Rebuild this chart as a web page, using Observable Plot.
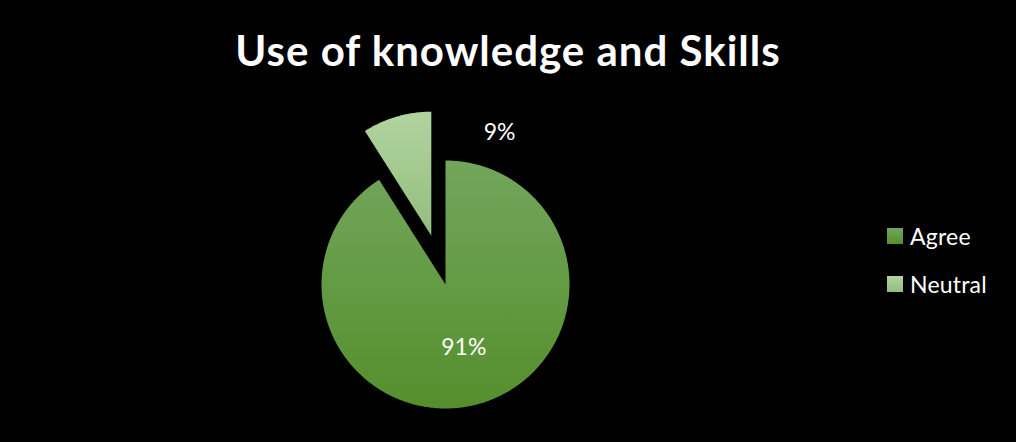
<!DOCTYPE html>
<html>
<head>
<meta charset="utf-8">
<script src="https://cdn.jsdelivr.net/npm/d3@7"></script>
<script src="https://cdn.jsdelivr.net/npm/@observablehq/plot@0.6"></script>
<style>
  html, body { margin: 0; padding: 0; background: #000; }
  #wrap { position: relative; width: 1016px; height: 442px; background: #000; overflow: hidden; font-family: Lato, "Open Sans", sans-serif; }
  #title { position: absolute; left: 0; top: 29px; width: 1016px; text-align: center; color: #fff; font-weight: 700; font-size: 42px; line-height: 42px; letter-spacing: 1px; white-space: nowrap; }
  #chart { position: absolute; left: 0; top: 0; }
  .lg { position: absolute; left: 887px; height: 20px; display: flex; align-items: center; color: #fff; font-size: 23px; line-height: 20px; letter-spacing: 0.2px; white-space: nowrap; }
  .sw { width: 16px; height: 16px; margin-right: 7px; flex: none; }
</style>
</head>
<body>
<div id="wrap">
  <div id="title"></div>
  <div id="chart"></div>
  <div id="legend"></div>
</div>
<script>
// ---- data ----
const title = "Use of knowledge and Skills";
const categories = ["Agree", "Neutral"];
const values = [91, 9];
const valueLabels = ["91%", "9%"];

// ---- styles ----
const gradTop = ["#72a65c", "#b2d4a0"];
const gradBottom = ["#558f2c", "#93bd7d"];

// ---- layout ----
const W = 1016, H = 442;
const cx = 445, cy = 284, R = 124;      // pie centre / radius in pixels
const explode = [0, 0.41];               // offset of each slice, in radii
const labelPos = [                        // label placement (angle deg clockwise from top, radius in radii)
  null,                                   // null -> mid-angle inside slice
  {angle: 19.6, r: 1.30}
];

document.getElementById("title").textContent = title;

const pie = d3.pie().sort(null).value(d => d)(values);

const slices = pie.map((p, i) => {
  const mid = (p.startAngle + p.endAngle) / 2;
  const ox = explode[i] * Math.sin(mid), oy = explode[i] * Math.cos(mid);
  const pts = [{x: ox, y: oy}];
  const n = Math.max(2, Math.ceil((p.endAngle - p.startAngle) / (Math.PI / 360)));
  for (let k = 0; k <= n; k++) {
    const a = p.startAngle + (p.endAngle - p.startAngle) * k / n;
    pts.push({x: ox + Math.sin(a), y: oy + Math.cos(a)});
  }
  pts.push({x: ox, y: oy});
  return {category: categories[i], pts, mid, ox, oy};
});

const labelData = slices.map((s, i) => {
  const lp = labelPos[i];
  if (lp) {
    const a = lp.angle * Math.PI / 180;
    return {text: valueLabels[i], x: lp.r * Math.sin(a), y: lp.r * Math.cos(a)};
  }
  return {text: valueLabels[i], x: s.ox + 0.53 * Math.sin(s.mid), y: s.oy + 0.53 * Math.cos(s.mid)};
});

const svg = Plot.plot({
  width: W,
  height: H,
  margin: 0,
  style: {background: "transparent", overflow: "visible"},
  x: {domain: [-cx / R, (W - cx) / R], axis: null},
  y: {domain: [-(H - cy) / R, cy / R], axis: null},
  marks: [
    ...slices.map((s, i) => Plot.line(s.pts, {x: "x", y: "y", fill: `url(#grad${i})`, stroke: "none", curve: "linear"})),
    Plot.text(labelData, {x: "x", y: "y", text: "text", fill: "#fff", fontSize: 23, fontFamily: "Lato, 'Open Sans', sans-serif"})
  ]
});

const defs = d3.select(svg).insert("defs", ":first-child");
categories.forEach((c, i) => {
  const g = defs.append("linearGradient").attr("id", `grad${i}`)
    .attr("x1", 0).attr("y1", 0).attr("x2", 0).attr("y2", 1);
  g.append("stop").attr("offset", "0%").attr("stop-color", gradTop[i]);
  g.append("stop").attr("offset", "100%").attr("stop-color", gradBottom[i]);
});

document.getElementById("chart").appendChild(svg);

const legend = document.getElementById("legend");
categories.forEach((c, i) => {
  const item = document.createElement("div");
  item.className = "lg";
  item.style.top = (226 + i * 48) + "px";
  const sw = document.createElement("div");
  sw.className = "sw";
  sw.style.background = `linear-gradient(${gradTop[i]}, ${gradBottom[i]})`;
  const t = document.createElement("span");
  t.textContent = c;
  item.appendChild(sw);
  item.appendChild(t);
  legend.appendChild(item);
});
</script>
</body>
</html>
